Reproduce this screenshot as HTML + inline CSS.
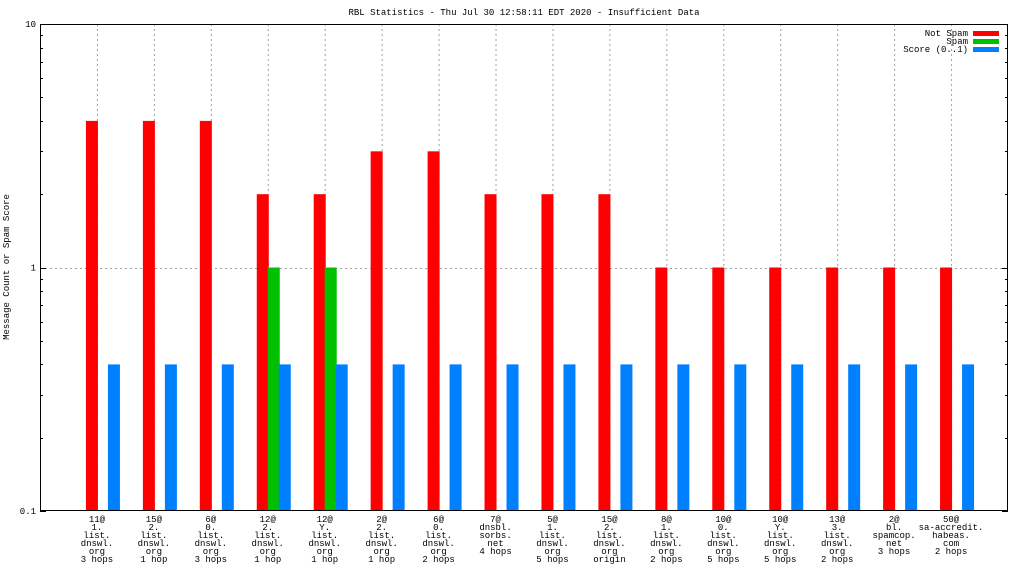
<!DOCTYPE html>
<html><head><meta charset="utf-8"><style>
body{margin:0;background:#fff}
svg text{font-family:"Liberation Mono","DejaVu Sans Mono",monospace;font-size:9px;fill:#000}
</style></head><body>
<svg id="c" width="1024" height="576" xmlns="http://www.w3.org/2000/svg">
<text x="524" y="15" text-anchor="middle">RBL Statistics - Thu Jul 30 12:58:11 EDT 2020 - Insufficient Data</text>
<text transform="translate(9,267) rotate(-90)" text-anchor="middle">Message Count or Spam Score</text>
<g id="grid"></g><g id="bars"></g><g id="ticks"></g>
<rect x="40.5" y="24.5" width="967" height="486" fill="none" stroke="#000" stroke-width="1"/>
<g>
<text x="968" y="36" text-anchor="end">Not Spam</text>
<rect x="973" y="31" width="26" height="5" fill="#ff0000"/>
<text x="968" y="44" text-anchor="end">Spam</text>
<rect x="973" y="39" width="26" height="5" fill="#00c000"/>
<text x="968" y="52" text-anchor="end">Score (0..1)</text>
<rect x="973" y="47" width="26" height="5" fill="#0080ff"/>
</g>
</svg>
<script>
const categories=[
["11@","1.","list.","dnswl.","org","3 hops"],["15@","2.","list.","dnswl.","org","1 hop"],["6@","0.","list.","dnswl.","org","3 hops"],
["12@","2.","list.","dnswl.","org","1 hop"],["12@","Y.","list.","dnswl.","org","1 hop"],["2@","2.","list.","dnswl.","org","1 hop"],
["6@","0.","list.","dnswl.","org","2 hops"],["7@","dnsbl.","sorbs.","net","4 hops"],["5@","1.","list.","dnswl.","org","5 hops"],
["15@","2.","list.","dnswl.","org","origin"],["8@","1.","list.","dnswl.","org","2 hops"],["10@","0.","list.","dnswl.","org","5 hops"],
["10@","Y.","list.","dnswl.","org","5 hops"],["13@","3.","list.","dnswl.","org","2 hops"],["2@","bl.","spamcop.","net","3 hops"],
["50@","sa-accredit.","habeas.","com","2 hops"]];
const notSpam=[4,4,4,2,2,3,3,2,2,2,1,1,1,1,1,1];
const spam=[0,0,0,1,1,0,0,0,0,0,0,0,0,0,0,0];
const score=[0.4,0.4,0.4,0.4,0.4,0.4,0.4,0.4,0.4,0.4,0.4,0.4,0.4,0.4,0.4,0.4];
const yTicks=[10,1,0.1];
const yTickLabels=["10","1","0.1"];
const NS="http://www.w3.org/2000/svg";
const L=40,R=1008,T=24,B=511;
const xs=i=>L+(i+1)*(R-L)/(categories.length+1);
const ys=v=>B-(Math.log10(v)+1)/2*(B-T);
function mk(tag,attrs,parent){const e=document.createElementNS(NS,tag);for(const k in attrs)e.setAttribute(k,attrs[k]);parent.appendChild(e);return e;}
const grid=document.getElementById('grid'),bars=document.getElementById('bars'),ticks=document.getElementById('ticks');
yTicks.forEach((v,i)=>{
  const y=Math.round(ys(v))+0.5;
  if(v>0.1&&v<10){const g=mk('line',{x1:L,x2:R,y1:y,y2:y,stroke:'#a0a0a0','stroke-dasharray':'2,3'},grid);
  
  }
  mk('line',{x1:L,x2:L+6,y1:y,y2:y,stroke:'#000'},ticks);mk('line',{x1:R-6,x2:R,y1:y,y2:y,stroke:'#000'},ticks);
  const t=mk('text',{x:L-4,y:ys(v)+3,'text-anchor':'end'},ticks);t.textContent=yTickLabels[i];
  
  
});
for(let d=0.1;d<10;d*=10){for(let m=2;m<=9;m++){const y=Math.round(ys(d*m))+0.5;
  mk('line',{x1:L,x2:L+3,y1:y,y2:y,stroke:'#000'},ticks);mk('line',{x1:R-3,x2:R,y1:y,y2:y,stroke:'#000'},ticks);}}
categories.forEach((c,i)=>{
  const cx=xs(i);
  const g=mk('line',{x1:cx+0.5,x2:cx+0.5,y1:T,y2:B,stroke:'#a0a0a0','stroke-dasharray':'2,3'},grid);
  
  
  const t=mk('text',{x:cx,y:B+11,'text-anchor':'middle'},ticks);
  
  
  c.forEach((s,j)=>{const ts=mk('tspan',{x:cx,dy:j?8:0},t);ts.textContent=s;});
  const vals=[[notSpam[i],-11,'#ff0000','bar-not-spam'],[spam[i],0,'#00c000','bar-spam'],[score[i],11,'#0080ff','bar-score']];
  vals.forEach(([v,off,col,name])=>{ if(v>0.1){const y=ys(v);
    const r=mk('rect',{x:cx+off,y:y,width:12,height:B-y,fill:col},bars);
    
    }});
});
</script>
</body></html>
